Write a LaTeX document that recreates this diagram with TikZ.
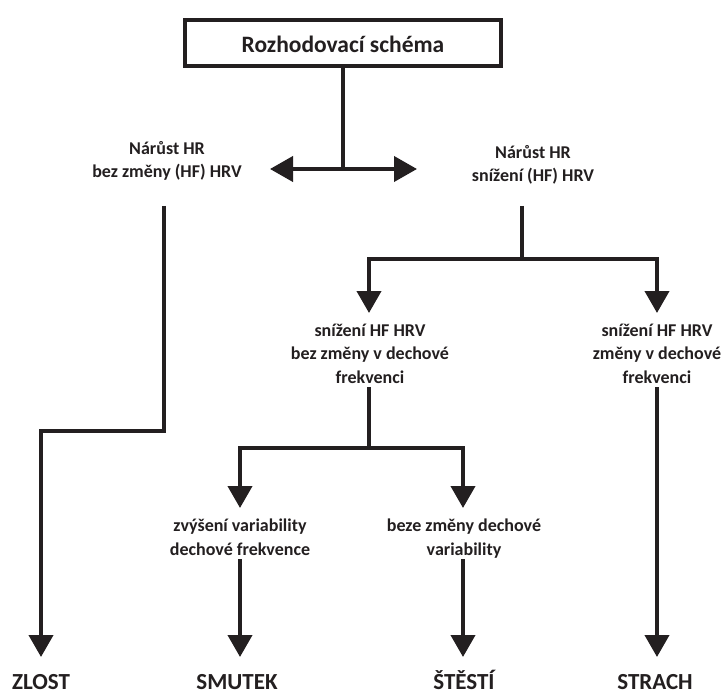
\documentclass[tikz,border=0pt]{standalone}
\usepackage{fontspec}
\setmainfont{Carlito}
\usetikzlibrary{arrows.meta}
\definecolor{ink}{HTML}{231F20}
\begin{document}
\begin{tikzpicture}[x=1pt,y=-1pt, line width=4pt, draw=ink,
  lbl/.style={font=\bfseries\fontsize{18}{23.5}\selectfont, align=center, anchor=base, inner sep=0pt, text=ink},
  big/.style={font=\bfseries\fontsize{23}{27}\selectfont, anchor=base, inner sep=0pt, text=ink},
  arr/.style={-{Triangle[length=22pt,width=24pt]}},
  dbl/.style={{Triangle[length=23pt,width=25pt]}-{Triangle[length=23pt,width=25pt]}}]
\useasboundingbox[fill=white] (0,0) rectangle (723,695);

% nodes (anchor base = baseline of the last line)
\node[draw=ink, line width=4pt, minimum width=316pt, minimum height=46pt, inner sep=0pt,
      text height=20pt, text depth=0pt,
      font=\bfseries\fontsize{23.5}{27}\selectfont, text=ink] (title) at (343,43) {Rozhodovací schéma};
\node[lbl] (l1) at (167,178) {Nárůst HR\\bez změny (HF) HRV};
\node[lbl] (r1) at (533,182) {Nárůst HR\\snížení (HF) HRV};
\node[lbl] (m2) at (370,383) {snížení HF HRV\\bez změny v dechové\\frekvenci};
\node[lbl] (r2) at (657,383) {snížení HF HRV\\změny v dechové\\frekvenci};
\node[lbl] (a3) at (240,555) {zvýšení variability\\dechové frekvence};
\node[lbl] (b3) at (464,555) {beze změny dechové\\variability};
\node[big] (zlost) at (41,689) {ZLOST};
\node[big] (smutek) at (237,689) {SMUTEK};
\node[big] (stesti) at (464,689) {ŠTĚSTÍ};
\node[big] (strach) at (655,689) {STRACH};

% coordinates
\coordinate (jt) at (343,169);
\coordinate (aL) at (270,169);
\coordinate (aR) at (417,169);
\coordinate (l1s) at (164,206);
\coordinate (lb) at (164,431);
\coordinate (zt) at (41,657);
\coordinate (r1s) at (522,206);
\coordinate (j1) at (522,259);
\coordinate (m2t) at (369,313);
\coordinate (r2t) at (657,313);
\coordinate (m2s) at (369,387);
\coordinate (j2) at (369,448);
\coordinate (a3t) at (240,508);
\coordinate (b3t) at (463,508);
\coordinate (a3s) at (240,559);
\coordinate (b3s) at (463,559);
\coordinate (r2s) at (657,387);
\coordinate (st) at (240,657);
\coordinate (ht) at (463,657);
\coordinate (cht) at (657,657);

% connectors
\draw (title.south) -- (jt);
\draw[dbl] (aL) -- (aR);
\draw[arr] (l1s) -- (lb) -| (zt);
\draw (r1s) -- (j1);
\draw[arr] (j1) -| (m2t);
\draw[arr] (j1) -| (r2t);
\draw (m2s) -- (j2);
\draw[arr] (j2) -| (a3t);
\draw[arr] (j2) -| (b3t);
\draw[arr] (a3s) -- (st);
\draw[arr] (b3s) -- (ht);
\draw[arr] (r2s) -- (cht);
\end{tikzpicture}
\end{document}
